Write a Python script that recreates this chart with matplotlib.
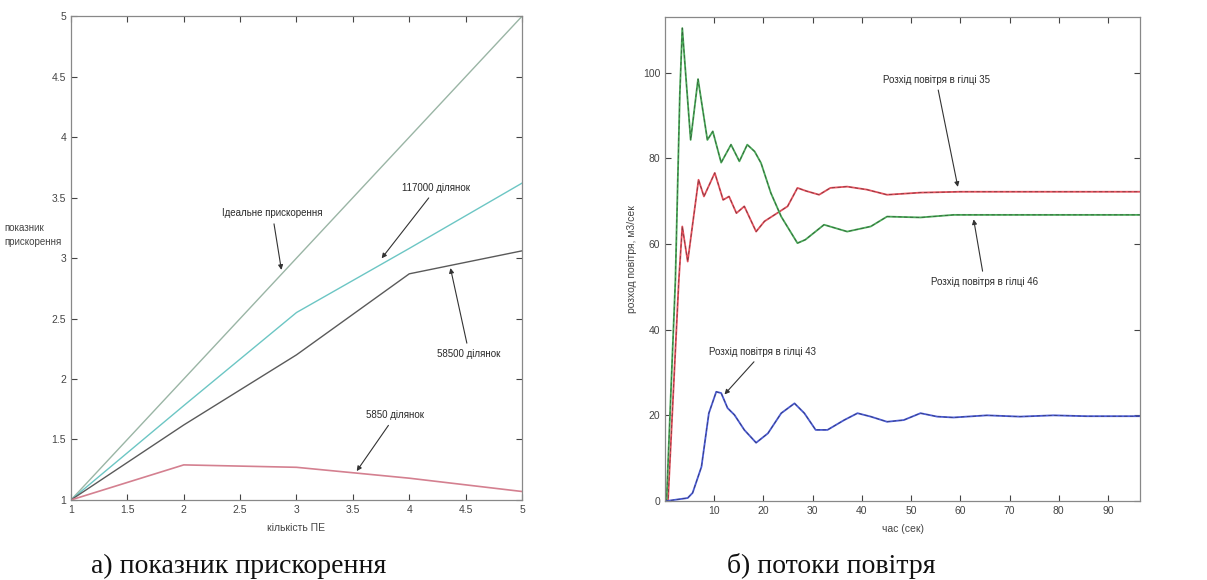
import numpy as np
import matplotlib.pyplot as plt

# ---- панель а): показник прискорення ----
pe = [1, 2, 3, 4, 5]
ideal = [1, 2, 3, 4, 5]
s117000 = [1, 1.78, 2.55, 3.08, 3.62]
s58500 = [1, 1.62, 2.2, 2.87, 3.06]
s5850 = [1, 1.29, 1.27, 1.18, 1.07]

# ---- панель б): потоки повітря ----
t35 = [0, 0.6, 2.8, 3.5, 4.6, 5.3, 6.8, 7.9, 10.1, 11.8, 13.0, 14.5, 16.1, 18.5,
       20.2, 22.9, 24.9, 26.9, 28.6, 31.3, 33.6, 37.0, 41.0, 45.1, 51.9, 60, 70, 80, 96.5]
q35 = [0, 0, 51.6, 64.1, 55.9, 62, 75.0, 71.1, 76.6, 70.3, 71.1, 67.2, 68.8, 62.9,
       65.3, 67.3, 68.8, 73.1, 72.4, 71.5, 73.1, 73.4, 72.7, 71.5, 72.0, 72.2, 72.2, 72.2, 72.2]

t46 = [0, 0.3, 2.1, 3.0, 3.5, 4.3, 5.2, 6.7, 8.6, 9.7, 11.4, 13.4, 15.1, 16.7, 18.2,
       19.5, 21.5, 23.6, 26.9, 28.5, 32.3, 37.0, 41.8, 45.1, 51.9, 58.6, 70, 80, 96.5]
q46 = [0, 0, 51.6, 95, 110.4, 98, 84.3, 98.5, 84.3, 86.3, 79.0, 83.2, 79.3, 83.2, 81.6,
       78.9, 71.9, 66.4, 60.2, 61, 64.5, 62.9, 64.1, 66.4, 66.2, 66.8, 66.8, 66.8, 66.8]

t43 = [0, 0.3, 4.6, 5.6, 7.4, 8.9, 10.4, 11.4, 12.7, 14.1, 16.1, 18.5, 20.9, 23.6,
       26.3, 28.3, 30.6, 33.0, 36.4, 39.1, 41.8, 45.1, 48.5, 51.9, 55.3, 58.6, 65.4,
       72.1, 78.9, 85.6, 96.5]
q43 = [0, 0, 0.7, 1.9, 8.0, 20.5, 25.5, 25.2, 21.7, 20.1, 16.6, 13.6, 15.8, 20.5,
       22.8, 20.5, 16.6, 16.6, 18.9, 20.5, 19.7, 18.5, 18.9, 20.5, 19.7, 19.5, 20.0,
       19.7, 20.0, 19.8, 19.8]

plt.rcParams['font.family'] = ['Liberation Sans', 'DejaVu Sans']

fig = plt.figure(figsize=(12.07, 5.8), dpi=100)
ax1 = fig.add_axes([0.0588, 0.138, 0.3737, 0.834])
ax2 = fig.add_axes([0.551, 0.1362, 0.3935, 0.8345])

for ax in (ax1, ax2):
    ax.tick_params(direction='in', top=True, right=True, labelsize=7.5,
                   colors='#444444', length=4)
    for sp in ax.spines.values():
        sp.set_color('#888888')
        sp.set_linewidth(0.9)

# left panel
ax1.plot(pe, ideal, color='#9ab5a5', lw=1.0)
ax1.plot(pe, s117000, color='#6cc6c4', lw=1.0)
ax1.plot(pe, s58500, color='#5a5a5a', lw=1.0)
ax1.plot(pe, s5850, color='#d48090', lw=1.2)
ax1.set_xlim(1, 5)
ax1.set_ylim(1, 5)
ax1.set_xticks(np.arange(1, 5.01, 0.5))
ax1.set_yticks(np.arange(1, 5.01, 0.5))
ax1.set_xticklabels(['1', '1.5', '2', '2.5', '3', '3.5', '4', '4.5', '5'])
ax1.set_yticklabels(['1', '1.5', '2', '2.5', '3', '3.5', '4', '4.5', '5'])
ax1.set_xlabel('кількість ПЕ', fontsize=7.5, color='#444444', labelpad=6)
fig.text(0.004, 0.595, 'показник\nприскорення', fontsize=7, color='#444444',
         ha='left', va='center', linespacing=1.6)

arw = dict(arrowstyle='-|>', color='#333333', lw=0.8, mutation_scale=7)
lkw = dict(fontsize=7, color='#2a2a2a', arrowprops=arw)
ax1.annotate('Ідеальне прискорення', xy=(2.87, 2.88), xytext=(2.34, 3.37),
             va='center', **lkw)
ax1.annotate('117000 ділянок', xy=(3.74, 2.98), xytext=(3.94, 3.58),
             va='center', **lkw)
ax1.annotate('58500 ділянок', xy=(4.36, 2.94), xytext=(4.25, 2.21),
             va='center', **lkw)
ax1.annotate('5850 ділянок', xy=(3.52, 1.22), xytext=(3.62, 1.70),
             va='center', **lkw)

# right panel
for tt, qq, c in [(t35, q35, '#e4505c'), (t46, q46, '#48a856'), (t43, q43, '#4a5ad4')]:
    ax2.plot(tt, qq, color=c, lw=1.3)
    ax2.plot(tt, qq, color='#222222', lw=0.6, ls=(0, (4, 3)), alpha=0.5)
ax2.set_xlim(0, 96.5)
ax2.set_ylim(0, 113)
ax2.set_xticks(np.arange(10, 91, 10))
ax2.set_yticks(np.arange(0, 101, 20))
ax2.set_xlabel('час (сек)', fontsize=7.5, color='#444444', labelpad=6)
ax2.set_ylabel('розход повітря, м3/сек', fontsize=7.5, color='#444444', labelpad=4)

ax2.annotate('Розхід повітря в гілці 35', xy=(59.6, 72.7), xytext=(44.2, 98.4),
             va='center', **lkw)
ax2.annotate('Розхід повітря в гілці 46', xy=(62.6, 66.4), xytext=(54.0, 51.2),
             va='center', **lkw)
ax2.annotate('Розхід повітря в гілці 43', xy=(11.7, 24.4), xytext=(9.0, 34.8),
             va='center', **lkw)

# captions
fig.text(0.075, 0.012, 'а) показник прискорення', fontsize=20,
         family=['Liberation Serif', 'DejaVu Serif'], color='#111111')
fig.text(0.602, 0.012, 'б) потоки повітря', fontsize=20,
         family=['Liberation Serif', 'DejaVu Serif'], color='#111111')

fig.savefig('out.png', dpi=100)
